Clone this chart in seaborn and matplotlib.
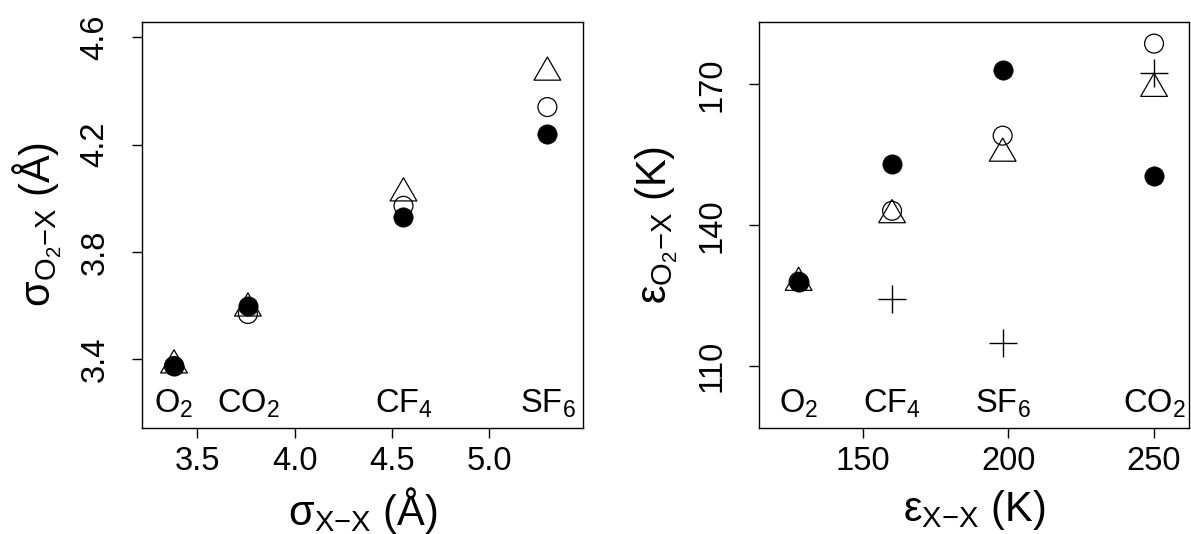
import numpy as np
import matplotlib
matplotlib.use("Agg")
import matplotlib.pyplot as plt
from matplotlib.path import Path
import seaborn as sns

# molecules, in the order they appear on each panel
gases_sigma = ["O$_2$", "CO$_2$", "CF$_4$", "SF$_6$"]
sigma_xx = [3.38, 3.76, 4.56, 5.30]
sigma_filled = [3.375, 3.599, 3.931, 4.241]
sigma_open = [3.375, 3.569, 3.972, 4.340]
sigma_tri = [3.378, 3.590, 4.019, 4.469]

gases_eps = ["O$_2$", "CF$_4$", "SF$_6$", "CO$_2$"]
eps_xx = [127.9, 160.0, 198.0, 250.0]
eps_filled = [128.0, 153.0, 173.0, 150.6]
eps_open = [128.0, 143.1, 159.1, 178.7]
eps_tri = [127.8, 142.2, 155.3, 169.1]
eps_plus_x = [160.0, 198.0, 250.0]
eps_plus = [124.4, 115.0, 172.5]

sns.set_style("ticks")
plt.rcParams["font.family"] = ["Liberation Sans", "DejaVu Sans"]
plt.rcParams["mathtext.fontset"] = "custom"
plt.rcParams["mathtext.rm"] = "Liberation Sans"
plt.rcParams["mathtext.default"] = "regular"
plt.rcParams["text.color"] = "black"
plt.rcParams["axes.labelcolor"] = "black"
plt.rcParams["xtick.color"] = "black"
plt.rcParams["ytick.color"] = "black"

TICK_FS = 23.5
LAB_FS = 30

# equilateral triangle centred on its centroid (like R's pch = 2)
tri = Path([(0, 1), (-0.866, -0.5), (0.866, -0.5), (0, 1)],
           [Path.MOVETO, Path.LINETO, Path.LINETO, Path.CLOSEPOLY])

fig = plt.figure(figsize=(11.91, 5.34), dpi=100)
ax1 = fig.add_axes([0.119, 0.199, 0.3708, 0.7598])
ax2 = fig.add_axes([0.6373, 0.199, 0.361, 0.7598])


def draw(ax, x, opn, trg, fil):
    sns.scatterplot(x=x, y=opn, marker="o", s=185, facecolor="none",
                    edgecolor="black", linewidth=0.9, ax=ax)
    sns.scatterplot(x=x, y=trg, marker=tri, s=493, facecolor="none",
                    edgecolor="black", linewidth=0.9, ax=ax)
    sns.scatterplot(x=x, y=fil, marker="o", s=193, color="black",
                    edgecolor="black", linewidth=0.5, ax=ax)


draw(ax1, sigma_xx, sigma_open, sigma_tri, sigma_filled)
draw(ax2, eps_xx, eps_open, eps_tri, eps_filled)
sns.scatterplot(x=eps_plus_x, y=eps_plus, marker="+", s=400, color="black",
                linewidth=1.0, ax=ax2)

for xv, lab in zip(sigma_xx, gases_sigma):
    ax1.text(xv, 3.233, lab, ha="center", va="center", fontsize=TICK_FS,
             color="black")
for xv, lab in zip(eps_xx, gases_eps):
    ax2.text(xv, 101.9, lab, ha="center", va="center", fontsize=TICK_FS,
             color="black")

ax1.set_xlim(3.214, 5.485)
ax1.set_ylim(3.145, 4.657)
ax1.set_xticks([3.5, 4.0, 4.5, 5.0])
ax1.set_xticklabels(["3.5", "4.0", "4.5", "5.0"])
ax1.set_yticks([3.4, 3.8, 4.2, 4.6])
ax1.set_yticklabels(["3.4", "3.8", "4.2", "4.6"])
ax1.set_xlabel("$σ_{X{-}X}$ (Å)", fontsize=LAB_FS)
ax1.set_ylabel("$σ_{O_2{-}X}$ (Å)", fontsize=LAB_FS)

ax2.set_xlim(114.3, 262.0)
ax2.set_ylim(96.9, 183.3)
ax2.set_xticks([150, 200, 250])
ax2.set_yticks([110, 140, 170])
ax2.set_xlabel("$ε_{X{-}X}$ (K)", fontsize=LAB_FS)
ax2.set_ylabel("$ε_{O_2{-}X}$ (K)", fontsize=LAB_FS)

for ax in (ax1, ax2):
    for sp in ax.spines.values():
        sp.set_visible(True)
        sp.set_linewidth(1.0)
        sp.set_color("black")
    ax.tick_params(axis="both", direction="out", length=7.5, width=1.0,
                   labelsize=TICK_FS, colors="black")
    ax.tick_params(axis="x", pad=6)
    ax.tick_params(axis="y", pad=15, labelrotation=90)
    for t in ax.get_yticklabels():
        t.set_va("center")
    ax.xaxis.label.set_va("center")
    ax.yaxis.label.set_va("center")
    ax.xaxis.set_label_coords(0.5, -0.203)
    ax.yaxis.set_label_coords(-0.237, 0.5)

fig.savefig("out.png", dpi=100)
